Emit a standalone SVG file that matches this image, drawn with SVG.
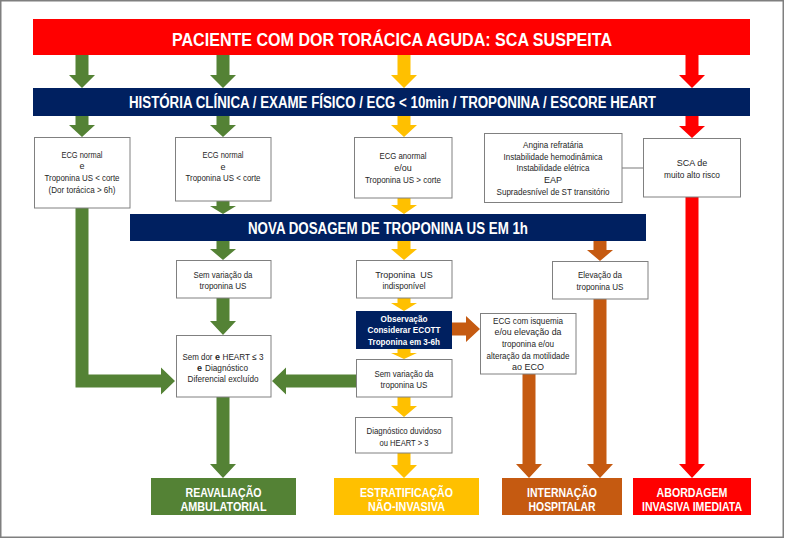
<svg xmlns="http://www.w3.org/2000/svg" width="785" height="539" viewBox="0 0 785 539">
<style>
text{font-family:"Liberation Sans Narrow","Liberation Sans",Arial,sans-serif;text-anchor:middle}
.s{font-size:9px;fill:#262626}
.b{font-weight:bold}
.st{text-anchor:start}.en{text-anchor:end}
.w{fill:#fff;font-weight:bold}
.box{fill:#fff;stroke:#808080;stroke-width:1}
.g{fill:#548235}.y{fill:#FFC000}.r{fill:#FF0000}.o{fill:#C55A11}.n{fill:#002060}
</style>
<rect x="0.75" y="0.75" width="782.5" height="536.5" fill="#fff" stroke="#7f7f7f" stroke-width="1.5"/>
<g id="connectors">
<line x1="622" y1="168" x2="643" y2="168" stroke="#a6a6a6" stroke-width="1.5"/>
<polygon class="g" points="75.5,55 88.5,55 88.5,75 95,75 82,88 69,75 75.5,75"/>
<polygon class="g" points="216.5,55 229.5,55 229.5,75 236,75 223,88 210,75 216.5,75"/>
<polygon class="y" points="397.5,55 410.5,55 410.5,75 417,75 404,88 391,75 397.5,75"/>
<polygon class="r" points="685.5,55 698.5,55 698.5,75 705,75 692,88 679,75 685.5,75"/>
<polygon class="g" points="75.5,116 88.5,116 88.5,125 95,125 82,137 69,125 75.5,125"/>
<polygon class="g" points="216.5,116 229.5,116 229.5,125 236,125 223,137 210,125 216.5,125"/>
<polygon class="y" points="397.5,116 410.5,116 410.5,125 417,125 404,137 391,125 397.5,125"/>
<polygon class="r" points="685.5,116 698.5,116 698.5,126 705,126 692,138 679,126 685.5,126"/>
<polygon class="g" points="216.5,201 229.5,201 229.5,206 236,206 223,214 210,206 216.5,206"/>
<polygon class="y" points="397.5,198 410.5,198 410.5,205 417,205 404,214 391,205 397.5,205"/>
<polygon class="g" points="216.5,241 229.5,241 229.5,249 236,249 223,260 210,249 216.5,249"/>
<polygon class="y" points="397.5,241 410.5,241 410.5,249 417,249 404,260 391,249 397.5,249"/>
<polygon class="o" points="593.5,241 606.5,241 606.5,250 613,250 600,261 587,250 593.5,250"/>
<polygon class="g" points="216.5,298 229.5,298 229.5,321 236,321 223,335 210,321 216.5,321"/>
<polygon class="y" points="397.5,298 410.5,298 410.5,303 417,303 404,311 391,303 397.5,303"/>
<polygon class="y" points="397.5,349 410.5,349 410.5,353 417,353 404,359 391,353 397.5,353"/>
<polygon class="y" points="397.5,397 410.5,397 410.5,406 417,406 404,417 391,406 397.5,406"/>
<polygon class="y" points="397.5,453 410.5,453 410.5,465 417,465 404,478 391,465 397.5,465"/>
<polygon class="g" points="216.5,397 229.5,397 229.5,464 236,464 223,478 210,464 216.5,464"/>
<polygon class="o" points="522.5,374 535.5,374 535.5,464 542,464 529,478 516,464 522.5,464"/>
<polygon class="o" points="593.5,299 606.5,299 606.5,464 613,464 600,478 587,464 593.5,464"/>
<polygon class="r" points="685.5,197 698.5,197 698.5,464 705,464 692,478 679,464 685.5,464"/>
<polygon class="g" points="356,374.5 356,387.5 286,387.5 286,394.5 272,381 286,367.5 286,374.5"/>
<polygon class="g" points="75.5,208 88.5,208 88.5,374.5 161,374.5 161,367.5 175,381 161,394.5 161,387.5 75.5,387.5"/>
<polygon class="o" points="452,322.5 466,322.5 466,316 480,329 466,342 466,335.5 452,335.5"/>
</g>
<g id="title">
<rect x="33" y="19" width="717" height="36" class="r"/>
<text x="392" y="46" class="w" font-size="19" textLength="440" lengthAdjust="spacingAndGlyphs">PACIENTE COM DOR TORÁCICA AGUDA: SCA SUSPEITA</text>
</g>
<g id="historia">
<rect x="33" y="88" width="717" height="28" class="n"/>
<text x="392.5" y="108" class="w" font-size="16" textLength="527" lengthAdjust="spacingAndGlyphs">HISTÓRIA CLÍNICA / EXAME FÍSICO / ECG &lt; 10min / TROPONINA / ESCORE HEART</text>
</g>
<g id="boxA">
<rect x="34.5" y="137.5" width="95.5" height="70.5" class="box"/>
<text class="s" x="82" y="158" textLength="41" lengthAdjust="spacingAndGlyphs">ECG normal</text>
<text class="s" x="82" y="169">e</text>
<text class="s" x="82" y="180.5" textLength="75" lengthAdjust="spacingAndGlyphs">Troponina US &lt; corte</text>
<text class="s" x="82" y="193" textLength="67" lengthAdjust="spacingAndGlyphs">(Dor torácica &gt; 6h)</text>
</g>
<g id="boxB">
<rect x="175.5" y="137.5" width="95.5" height="63.5" class="box"/>
<text class="s" x="223" y="158" textLength="41" lengthAdjust="spacingAndGlyphs">ECG normal</text>
<text class="s" x="223" y="169.5">e</text>
<text class="s" x="223" y="180.5" textLength="75" lengthAdjust="spacingAndGlyphs">Troponina US &lt; corte</text>
</g>
<g id="boxC">
<rect x="354.5" y="137.5" width="97.5" height="60.5" class="box"/>
<text class="s" x="403" y="158.5" textLength="47" lengthAdjust="spacingAndGlyphs">ECG anormal</text>
<text class="s" x="403" y="170.5">e/ou</text>
<text class="s" x="403" y="183" textLength="76" lengthAdjust="spacingAndGlyphs">Troponina US &gt; corte</text>
</g>
<g id="boxD">
<rect x="484.5" y="133.5" width="137.5" height="69" class="box"/>
<text class="s" x="553" y="148" textLength="60" lengthAdjust="spacingAndGlyphs">Angina refratária</text>
<text class="s" x="553" y="159.5" textLength="99" lengthAdjust="spacingAndGlyphs">Instabilidade hemodinâmica</text>
<text class="s" x="553" y="171" textLength="73" lengthAdjust="spacingAndGlyphs">Instabilidade elétrica</text>
<text class="s" x="553" y="183">EAP</text>
<text class="s" x="553" y="195" textLength="113" lengthAdjust="spacingAndGlyphs">Supradesnível de ST transitório</text>
</g>
<g id="boxE">
<rect x="643.5" y="138.5" width="97" height="58.5" class="box"/>
<text class="s" x="692" y="166">SCA de</text>
<text class="s" x="692" y="177.5" textLength="56" lengthAdjust="spacingAndGlyphs">muito alto risco</text>
</g>
<g id="nova">
<rect x="130" y="214" width="516" height="27" class="n"/>
<text x="388" y="233.5" class="w" font-size="16" textLength="280" lengthAdjust="spacingAndGlyphs">NOVA DOSAGEM DE TROPONINA US EM 1h</text>
</g>
<g id="semvar1">
<rect x="176.5" y="260.5" width="94.5" height="37.5" class="box"/>
<text class="s" x="223" y="277.5" textLength="59" lengthAdjust="spacingAndGlyphs">Sem variação da</text>
<text class="s" x="223" y="289" textLength="47" lengthAdjust="spacingAndGlyphs">troponina US</text>
</g>
<g id="indisp">
<rect x="356.5" y="260.5" width="95.5" height="37.5" class="box"/>
<text class="s" x="404" y="277.5" xml:space="preserve">Troponina  US</text>
<text class="s" x="404" y="289" textLength="43" lengthAdjust="spacingAndGlyphs">indisponível</text>
</g>
<g id="elevacao">
<rect x="552.5" y="261.5" width="95.5" height="37.5" class="box"/>
<text class="s" x="600" y="278" textLength="44" lengthAdjust="spacingAndGlyphs">Elevação da</text>
<text class="s" x="600" y="289.5" textLength="47" lengthAdjust="spacingAndGlyphs">troponina US</text>
</g>
<g id="observacao">
<rect x="356" y="311" width="96" height="38" class="n"/>
<text class="w" font-size="9" x="404" y="321.5" textLength="47" lengthAdjust="spacingAndGlyphs">Observação</text>
<text class="w" font-size="9" x="404" y="333" textLength="73" lengthAdjust="spacingAndGlyphs">Considerar ECOTT</text>
<text class="w" font-size="9" x="404" y="344.5" textLength="72" lengthAdjust="spacingAndGlyphs">Troponina em 3-6h</text>
</g>
<g id="ecgisq">
<rect x="480.5" y="313.5" width="95.5" height="60.5" class="box"/>
<text class="s" x="528" y="324" textLength="70" lengthAdjust="spacingAndGlyphs">ECG com isquemia</text>
<text class="s" x="528" y="335" textLength="67" lengthAdjust="spacingAndGlyphs">e/ou elevação da</text>
<text class="s" x="528" y="346.5" textLength="52" lengthAdjust="spacingAndGlyphs">troponina e/ou</text>
<text class="s" x="528" y="359" textLength="83" lengthAdjust="spacingAndGlyphs">alteração da motilidade</text>
<text class="s" x="528" y="370">ao ECO</text>
</g>
<g id="semdor">
<rect x="176.5" y="335.5" width="94.5" height="61.5" class="box"/>
<text class="s en" x="212.5" y="359.5" textLength="30" lengthAdjust="spacingAndGlyphs">Sem dor</text>
<text class="s b" x="217.5" y="359.5">e</text>
<text class="s st" x="222.5" y="359.5" textLength="41" lengthAdjust="spacingAndGlyphs">HEART ≤ 3</text>
<text class="s b" x="199.5" y="370.5">e</text>
<text class="s st" x="205" y="370.5" textLength="43" lengthAdjust="spacingAndGlyphs">Diagnóstico</text>
<text class="s" x="223" y="382" textLength="71" lengthAdjust="spacingAndGlyphs">Diferencial excluído</text>
</g>
<g id="semvar2">
<rect x="356.5" y="359.5" width="95.5" height="37.5" class="box"/>
<text class="s" x="404" y="376.5" textLength="59" lengthAdjust="spacingAndGlyphs">Sem variação da</text>
<text class="s" x="404" y="388" textLength="47" lengthAdjust="spacingAndGlyphs">troponina US</text>
</g>
<g id="duvidoso">
<rect x="355.5" y="417.5" width="96.5" height="35.5" class="box"/>
<text class="s" x="404" y="433.5" textLength="75" lengthAdjust="spacingAndGlyphs">Diagnóstico duvidoso</text>
<text class="s" x="404" y="446" textLength="49" lengthAdjust="spacingAndGlyphs">ou HEART &gt; 3</text>
</g>
<g id="reavaliacao">
<rect x="151" y="478" width="145" height="37" class="g"/>
<text class="w" font-size="13" x="223.5" y="496.5" textLength="76" lengthAdjust="spacingAndGlyphs">REAVALIAÇÃO</text>
<text class="w" font-size="13" x="223.5" y="511" textLength="86" lengthAdjust="spacingAndGlyphs">AMBULATORIAL</text>
</g>
<g id="estratificacao">
<rect x="334" y="478" width="145" height="37" class="y"/>
<text class="w" font-size="13" x="406.5" y="496.5" textLength="93" lengthAdjust="spacingAndGlyphs">ESTRATIFICAÇÃO</text>
<text class="w" font-size="13" x="406.5" y="511" textLength="77" lengthAdjust="spacingAndGlyphs">NÃO-INVASIVA</text>
</g>
<g id="internacao">
<rect x="502" y="478" width="120" height="37" class="o"/>
<text class="w" font-size="13" x="562" y="496.5" textLength="70" lengthAdjust="spacingAndGlyphs">INTERNAÇÃO</text>
<text class="w" font-size="13" x="562" y="511" textLength="67" lengthAdjust="spacingAndGlyphs">HOSPITALAR</text>
</g>
<g id="abordagem">
<rect x="633" y="478" width="118" height="37" class="r"/>
<text class="w" font-size="13" x="692" y="496.5" textLength="71" lengthAdjust="spacingAndGlyphs">ABORDAGEM</text>
<text class="w" font-size="13" x="692" y="511" textLength="100" lengthAdjust="spacingAndGlyphs">INVASIVA IMEDIATA</text>
</g>
</svg>
